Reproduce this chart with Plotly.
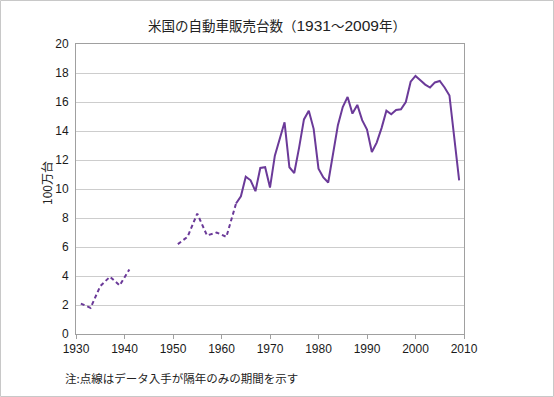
import plotly.graph_objects as go

# Data (millions of vehicles)
years_dash1 = [1931, 1933, 1935, 1937, 1939, 1941]
sales_dash1 = [2.1, 1.8, 3.3, 3.95, 3.35, 4.45]

years_dash2 = [1951, 1953, 1955, 1957, 1959, 1961, 1963]
sales_dash2 = [6.2, 6.7, 8.3, 6.8, 7.0, 6.7, 9.0]

years_solid = list(range(1963, 2010))
sales_solid = [9.0, 9.5, 10.85, 10.6, 9.85, 11.45, 11.5, 10.1, 12.3, 13.45,
               14.6, 11.5, 11.1, 12.85, 14.8, 15.4, 14.15, 11.4, 10.8, 10.45,
               12.55, 14.4, 15.65, 16.35, 15.2, 15.8, 14.75, 14.1, 12.55, 13.2,
               14.2, 15.4, 15.15, 15.45, 15.5, 16.0, 17.4, 17.8, 17.5, 17.2,
               17.0, 17.35, 17.45, 17.0, 16.45, 13.5, 10.6]

x_ticks = [1930, 1940, 1950, 1960, 1970, 1980, 1990, 2000, 2010]
y_ticks = [0, 2, 4, 6, 8, 10, 12, 14, 16, 18, 20]

NUM = "font-family:'Liberation Sans',Arial,sans-serif;font-size:15.5px"
title_text = ("米国の自動車販売台数（"
              f"<span style=\"{NUM}\">1931</span>～"
              f"<span style=\"{NUM}\">2009</span>年）")
y_title = "100万台"
note_text = "注:点線はデータ入手が隔年のみの期間を示す"

LINE = "#6b3a99"
W, H = 554, 397
L, R, T, B = 76, 464, 44, 334
pw, ph = R - L, B - T

def px(x):
    return (x - L) / pw

def py(y):
    return (B - y) / ph

fig = go.Figure()
for xs, ys in [(years_dash1, sales_dash1), (years_dash2, sales_dash2)]:
    fig.add_trace(go.Scatter(x=xs, y=ys, mode="lines",
                             line=dict(color=LINE, width=2, dash="4px,3px"),
                             hoverinfo="x+y", showlegend=False))
fig.add_trace(go.Scatter(x=years_solid, y=sales_solid, mode="lines",
                         line=dict(color=LINE, width=2),
                         hoverinfo="x+y", showlegend=False))

tickfont = dict(family="Liberation Sans, Arial, sans-serif", size=12, color="#1a1a1a")
fig.update_layout(
    width=W, height=H,
    margin=dict(l=L, r=W - R, t=T, b=H - B, pad=0),
    paper_bgcolor="white", plot_bgcolor="white",
    font=dict(family="Noto Sans CJK JP, sans-serif", color="#222"),
    xaxis=dict(range=[1930, 2010], tickvals=x_ticks, ticktext=[str(v) for v in x_ticks],
               showgrid=False, zeroline=False, showline=True, linecolor="#a0a0a0",
               linewidth=1, mirror=True, ticks="outside", ticklen=4,
               tickcolor="#a0a0a0", tickfont=tickfont),
    yaxis=dict(range=[0, 20], tickvals=y_ticks, ticktext=[str(v) for v in y_ticks],
               showgrid=True, gridcolor="#cdcdcd", gridwidth=1, zeroline=False,
               showline=True, linecolor="#a0a0a0", linewidth=1, mirror=True,
               ticks="", ticklabelstandoff=4, tickfont=tickfont),
    annotations=[
        dict(text=title_text, x=px(W / 2), y=py(25), xref="paper", yref="paper",
             xanchor="center", yanchor="middle", showarrow=False,
             font=dict(size=13.5, color="#222")),
        dict(text=y_title, x=px(46), y=py(183), xref="paper", yref="paper",
             xanchor="center", yanchor="middle", showarrow=False, textangle=-90,
             font=dict(size=12, color="#222")),
        dict(text=note_text, x=px(63), y=py(378), xref="paper", yref="paper",
             xanchor="left", yanchor="middle", showarrow=False,
             font=dict(size=11.5, color="#222")),
    ],
    shapes=[dict(type="rect", xref="paper", yref="paper",
                 x0=px(0.5), x1=px(W - 0.5), y0=py(H - 0.5), y1=py(0.5),
                 line=dict(color="#c8c8c8", width=1), fillcolor="rgba(0,0,0,0)",
                 layer="below")],
)

fig.write_html("out.html", config={"displayModeBar": False},
               post_script="document.body.style.margin='0';document.body.style.padding='0';")
